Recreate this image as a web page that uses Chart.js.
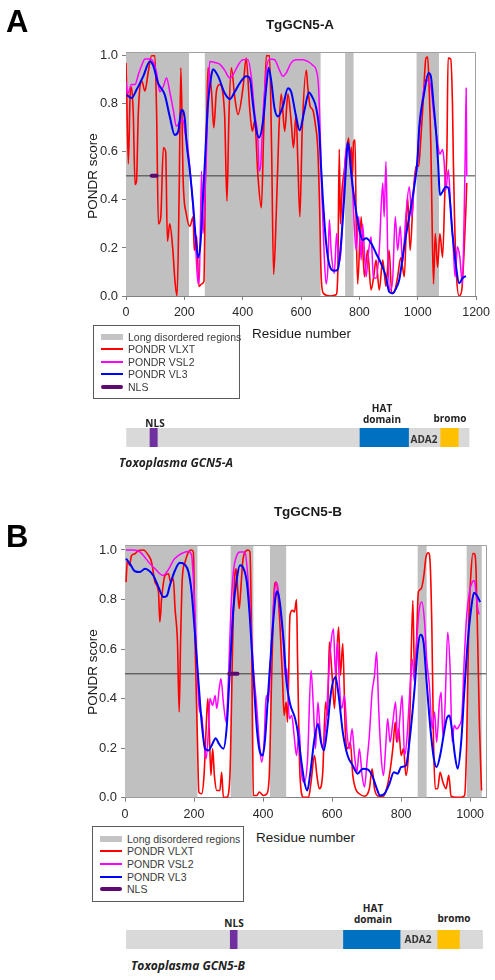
<!DOCTYPE html>
<html><head><meta charset="utf-8">
<script src="https://cdn.jsdelivr.net/npm/chart.js@4/dist/chart.umd.min.js"></script>
<style>
body{margin:0;width:495px;height:980px;position:relative;background:#fff;overflow:hidden;font-family:"Liberation Sans",Arial,sans-serif}
.wrap{position:absolute;left:0;width:495px}
.t{position:absolute;white-space:nowrap;line-height:1;z-index:5;color:#1a1a1a}
.c{transform:translate(-50%,-50%)}
.l{transform:translate(0,-50%)}
.dom{font-family:"Open Sans",sans-serif;font-weight:700;font-size:10px;color:#222}
.lg{position:absolute;border:1px solid #5a5a5a;background:#fff;z-index:4;box-sizing:border-box}
.lr{position:absolute;left:0;height:12px;width:100%}
.sw{position:absolute;left:7px;width:22px}
.lt{position:absolute;left:34px;top:50%;transform:translateY(-50%);font-size:10.5px;color:#3a3a3a;white-space:nowrap;line-height:1}
</style></head>
<body>
<div class="t" style="left:6px;top:6px;font-size:31px;font-weight:700;color:#000">A</div>
<div class="t" style="left:6px;top:521px;font-size:31px;font-weight:700;color:#000">B</div>
<div class="t c" style="left:300px;top:25px;font-size:13.5px;font-weight:700">TgGCN5-A</div>
<div class="t c" style="left:308px;top:512px;font-size:13.5px;font-weight:700">TgGCN5-B</div>
<div class="t c" style="left:93px;top:176px;font-size:13.5px;transform:translate(-50%,-50%) rotate(-90deg)">PONDR score</div>
<div class="t c" style="left:93px;top:672px;font-size:13.5px;transform:translate(-50%,-50%) rotate(-90deg)">PONDR score</div>
<div class="t l" style="left:252px;top:334px;font-size:13.5px">Residue number</div>
<div class="t l" style="left:256px;top:838px;font-size:13.5px">Residue number</div>

<div class="wrap" style="top:0;height:330px"><canvas id="cA"></canvas></div>
<div class="wrap" style="top:500px;height:330px"><canvas id="cB"></canvas></div>
<div class="wrap" style="top:428px;height:19px"><canvas id="dA"></canvas></div>
<div class="wrap" style="top:930px;height:19px"><canvas id="dB"></canvas></div>

<div class="lg" style="left:93px;top:325px;width:147px;height:74px">
 <div class="lr" style="top:5px"><div class="sw" style="top:3px;height:6px;background:#c4c4c4"></div><div class="lt">Long disordered regions</div></div>
 <div class="lr" style="top:17px"><div class="sw" style="top:5px;height:2px;background:#ff0000"></div><div class="lt">PONDR VLXT</div></div>
 <div class="lr" style="top:29.5px"><div class="sw" style="top:5px;height:2px;background:#ff00ff"></div><div class="lt">PONDR VSL2</div></div>
 <div class="lr" style="top:41.5px"><div class="sw" style="top:5px;height:2px;background:#0000ff"></div><div class="lt">PONDR VL3</div></div>
 <div class="lr" style="top:54.5px"><div class="sw" style="top:4px;height:4px;border-radius:2px;background:#5c0a70"></div><div class="lt">NLS</div></div>
</div>
<div class="lg" style="left:92px;top:826px;width:152px;height:76px">
 <div class="lr" style="top:6px"><div class="sw" style="top:3px;height:6px;background:#c4c4c4"></div><div class="lt">Long disordered regions</div></div>
 <div class="lr" style="top:18px"><div class="sw" style="top:5px;height:2px;background:#ff0000"></div><div class="lt">PONDR VLXT</div></div>
 <div class="lr" style="top:30.5px"><div class="sw" style="top:5px;height:2px;background:#ff00ff"></div><div class="lt">PONDR VSL2</div></div>
 <div class="lr" style="top:43.5px"><div class="sw" style="top:5px;height:2px;background:#0000ff"></div><div class="lt">PONDR VL3</div></div>
 <div class="lr" style="top:56px"><div class="sw" style="top:4px;height:4px;border-radius:2px;background:#5c0a70"></div><div class="lt">NLS</div></div>
</div>

<div class="t c dom" style="left:155px;top:423px">NLS</div>
<div class="t c dom" style="left:382px;top:408px">HAT</div>
<div class="t c dom" style="left:382px;top:419px">domain</div>
<div class="t c dom" style="left:450px;top:418px">bromo</div>
<div class="t c dom" style="left:424px;top:439px;color:#333">ADA2</div>
<div class="t l dom" style="left:119px;top:463px;font-size:12px;font-style:italic">Toxoplasma GCN5-A</div>

<div class="t c dom" style="left:234px;top:923px">NLS</div>
<div class="t c dom" style="left:373px;top:908px">HAT</div>
<div class="t c dom" style="left:373px;top:919px">domain</div>
<div class="t c dom" style="left:454px;top:918px">bromo</div>
<div class="t c dom" style="left:418px;top:939px;color:#333">ADA2</div>
<div class="t l dom" style="left:131px;top:966px;font-size:12px;font-style:italic">Toxoplasma GCN5-B</div>

<script>
// ---------- data ----------
const THRESHOLD = 0.5;
const Y_TICK_STEP = 0.2;
const X_TICK_STEP = 200;

// Panel A: TgGCN5-A
const A_XMAX = 1200;
const A_DISORDER = [[0,216],[270,667],[751,780],[996,1073]];
const A_NLS = [88,105];
const A_VLXT = [[0,.97],[2,.87],[8,.55],[14,.83],[19,.87],[25,.755],[31,.464],[36,.478],[42,.755],[54,.894],[65,.853],[76,.93],[88,1.0],[99,1.0],[105,.755],[111,.30],[119,.325],[128,.617],[136,.60],[142,.228],[150,.30],[160,.20],[168,.06],[175,0],[182,.41],[188,.95],[196,.478],[207,.34],[219,.29],[230,.33],[234,.19],[242,.25],[250,.04],[259,.05],[267,.06],[272,.478],[277,.755],[281,.95],[293,.853],[301,.70],[310,.853],[321,.88],[338,.755],[346,.395],[353,.755],[361,.95],[373,.825],[384,.755],[401,.866],[412,.99],[424,.78],[433,.686],[441,.728],[452,.505],[464,.367],[472,.686],[481,1.0],[492,1.0],[499,.617],[506,.09],[515,.34],[524,.686],[532,.84],[544,.686],[555,.84],[566,.728],[574,.617],[583,.755],[589,.56],[596,.33],[604,.69],[618,.94],[623,.87],[631,.79],[640,.775],[650,.706],[657,.62],[663,.40],[669,.08],[677,.01],[700,0],[720,.005],[726,.10],[731,.61],[735,.30],[741,.45],[748,.52],[755,.60],[763,.657],[768,.55],[772,.62],[776,.50],[780,.64],[785,.65],[789,.30],[794,.05],[806,.33],[817,.08],[828,.19],[840,.025],[849,.08],[857,.15],[868,.025],[880,.15],[891,.04],[902,.19],[911,.01],[922,.025],[931,.08],[942,.16],[954,.08],[965,.414],[974,.19],[985,.43],[994,.54],[1003,.54],[1011,.664],[1019,.817],[1028,.99],[1034,.994],[1039,.87],[1045,.62],[1048,.40],[1054,.05],[1060,.26],[1068,.12],[1076,.26],[1085,.16],[1094,.47],[1100,.61],[1104,.99],[1113,.986],[1119,.80],[1122,.565],[1126,.33],[1133,.08],[1142,0],[1151,.025],[1159,.19],[1165,.36],[1168,.47]];
const A_VSL2 = [[0,.893],[5,.84],[19,.88],[31,.88],[42,.92],[54,.96],[65,.986],[82,.986],[93,.976],[105,.928],[116,.85],[128,.872],[139,.907],[150,.85],[162,.775],[173,.706],[185,.726],[196,.733],[202,.68],[210,.636],[219,.53],[230,.37],[239,.20],[247,.05],[252,.10],[259,.52],[264,.26],[270,.40],[276,.61],[282,.85],[287,.976],[304,.972],[321,.965],[338,.94],[356,.907],[367,.92],[384,.96],[401,.983],[418,.983],[430,.907],[441,.76],[452,.65],[456,.52],[462,.55],[470,.76],[481,.94],[492,.986],[509,.983],[526,.94],[538,.914],[549,.928],[566,.97],[583,.983],[606,.983],[623,.976],[640,.96],[652,.94],[660,.87],[666,.664],[672,.40],[680,.15],[686,.05],[692,.12],[697,.317],[703,.19],[714,.095],[722,.26],[729,.136],[737,.19],[745,.40],[752,.58],[760,.636],[766,.58],[772,.50],[777,.43],[783,.28],[789,.19],[798,.33],[806,.15],[811,.30],[823,.08],[832,.19],[840,.247],[848,.08],[857,.074],[868,.19],[880,.47],[885,.33],[891,.56],[897,.19],[905,.025],[914,.07],[923,.33],[931,.19],[940,.29],[948,.136],[959,.33],[971,.455],[980,.33],[988,.47],[996,.525],[1003,.65],[1011,.76],[1028,.90],[1037,.893],[1045,.87],[1056,.747],[1068,.636],[1076,.59],[1085,.61],[1090,.566],[1096,.44],[1105,.525],[1113,.36],[1121,.22],[1128,.08],[1136,.205],[1144,.164],[1153,.05],[1159,.33],[1163,.61],[1166,.865],[1168,.50]];
const A_VL3 = [[3,.837],[19,.824],[36,.858],[59,.914],[82,.976],[93,.96],[110,.886],[133,.837],[150,.747],[167,.67],[179,.685],[190,.775],[202,.733],[207,.645],[219,.52],[230,.38],[239,.24],[247,.16],[255,.215],[264,.41],[273,.62],[281,.80],[293,.92],[298,.944],[316,.914],[338,.845],[356,.82],[373,.85],[390,.886],[412,.914],[424,.907],[435,.80],[447,.69],[456,.66],[470,.73],[481,.872],[489,.95],[498,.893],[509,.782],[521,.747],[538,.79],[555,.865],[566,.85],[583,.747],[595,.69],[612,.775],[627,.847],[640,.824],[652,.782],[663,.678],[668,.55],[675,.40],[686,.22],[697,.13],[714,.105],[726,.11],[737,.22],[749,.43],[755,.56],[760,.639],[766,.60],[771,.525],[783,.40],[800,.275],[811,.233],[823,.24],[840,.22],[857,.178],[874,.136],[891,.08],[902,.018],[914,.011],[925,.03],[937,.07],[948,.16],[959,.247],[971,.33],[988,.455],[999,.566],[1005,.70],[1022,.844],[1037,.928],[1045,.914],[1054,.80],[1064,.664],[1070,.55],[1076,.42],[1085,.434],[1096,.455],[1105,.45],[1119,.26],[1130,.136],[1142,.053],[1153,.074],[1165,.083]];
const A_PROTEIN = [2,1173];
const A_NLS_BOX = [82,107];
const A_HAT = [800,966];
const A_BROMO = [1076,1136];

// Panel B: TgGCN5-B
const B_XMAX = 1048;
const B_DISORDER = [[0,210],[306,372],[420,467],[848,874],[990,1034]];
const B_NLS = [302,326];
const B_VLXT = [[3,.87],[7,.958],[13,.938],[19,.978],[29,.985],[39,.998],[53,1.0],[68,.978],[77,.951],[87,.87],[97,.83],[101,.709],[106,.803],[116,.897],[126,.904],[132,.87],[140,.884],[145,.763],[152,.628],[157,.346],[161,.628],[166,.884],[174,.951],[184,.992],[193,1.0],[198,.992],[203,.628],[210,.224],[214,.023],[222,.016],[229,.09],[235,.278],[240,.40],[244,.278],[249,.09],[254,.198],[259,.09],[266,.029],[275,.029],[280,.103],[285,.002],[295,.002],[304,.09],[312,.628],[317,.87],[322,.924],[325,.87],[331,.763],[335,.83],[341,.951],[348,.992],[357,1.0],[362,.992],[367,.628],[372,.009],[382,.009],[389,.023],[401,.009],[411,.016],[418,.09],[425,.494],[432,.83],[437,.87],[442,.843],[449,.696],[456,.494],[461,.332],[467,.386],[471,.305],[478,.736],[485,.756],[491,.75],[497,.80],[500,.56],[507,.09],[517,.002],[532,.002],[539,.063],[549,.17],[556,.09],[563,.036],[573,.103],[581,.386],[587,.332],[592,.628],[600,.494],[607,.36],[614,.588],[619,.689],[624,.494],[631,.622],[638,.278],[645,.198],[653,.224],[660,.09],[668,.036],[679,.016],[694,.006],[708,.036],[716,.117],[723,.036],[735,.006],[749,.006],[758,.036],[766,.09],[776,.198],[783,.305],[787,.224],[793,.278],[800,.17],[807,.198],[814,.09],[821,.17],[826,.36],[834,.796],[839,.494],[843,.56],[850,.83],[858,.843],[866,.897],[872,.971],[879,.989],[884,.951],[889,.696],[894,.224],[899,.036],[906,.036],[913,.103],[921,.063],[930,.036],[938,.09],[945,.006],[959,.002],[974,.002],[984,.009],[990,.224],[996,.696],[1002,.897],[1008,.985],[1012,.985],[1017,.924],[1022,.628],[1027,.292],[1033,.029]];
const B_VSL2 = [[3,1.0],[24,1.0],[43,.992],[58,.97],[72,.945],[87,.924],[101,.904],[111,.897],[121,.911],[130,.931],[140,.958],[155,.978],[169,.989],[184,.994],[193,.978],[200,.83],[208,.56],[215,.36],[222,.332],[229,.224],[235,.157],[242,.278],[246,.40],[254,.373],[261,.413],[266,.36],[273,.44],[278,.48],[285,.386],[293,.305],[300,.494],[307,.763],[314,.911],[324,.978],[333,.992],[348,.992],[354,.924],[362,.763],[372,.52],[382,.36],[389,.224],[396,.144],[403,.224],[409,.413],[415,.386],[422,.56],[430,.763],[437,.868],[442,.857],[449,.763],[459,.628],[464,.494],[469,.52],[476,.319],[483,.332],[490,.251],[497,.17],[505,.278],[510,.117],[520,.063],[529,.157],[539,.514],[546,.36],[552,.198],[559,.386],[565,.278],[573,.198],[583,.319],[590,.494],[597,.628],[604,.682],[610,.494],[616,.628],[621,.467],[628,.36],[636,.413],[643,.265],[650,.198],[658,.278],[665,.17],[672,.103],[679,.198],[687,.09],[694,.043],[701,.144],[708,.251],[716,.426],[723,.494],[729,.588],[735,.36],[742,.17],[749,.09],[755,.198],[761,.319],[768,.224],[776,.305],[784,.386],[790,.224],[797,.332],[803,.413],[810,.17],[816,.224],[824,.40],[832,.56],[839,.467],[845,.628],[853,.763],[860,.79],[868,.709],[874,.56],[882,.453],[890,.278],[897,.346],[903,.224],[911,.386],[916,.426],[921,.251],[927,.36],[935,.668],[942,.52],[948,.224],[954,.292],[961,.278],[969,.292],[976,.332],[983,.56],[990,.736],[998,.83],[1006,.87],[1012,.877],[1017,.83],[1022,.763],[1026,.74]];
const B_VL3 = [[3,.965],[14,.945],[29,.914],[43,.911],[58,.924],[68,.918],[82,.897],[97,.85],[111,.81],[121,.814],[130,.857],[145,.918],[159,.948],[174,.94],[184,.911],[193,.83],[203,.655],[213,.467],[222,.305],[232,.198],[242,.191],[251,.211],[263,.24],[272,.218],[285,.198],[295,.29],[304,.52],[314,.763],[324,.884],[333,.938],[343,.927],[353,.87],[362,.722],[372,.494],[382,.278],[391,.184],[399,.17],[406,.238],[415,.426],[425,.628],[435,.796],[440,.833],[447,.803],[459,.642],[468,.467],[478,.38],[493,.319],[500,.27],[510,.157],[520,.063],[528,.029],[536,.09],[549,.238],[559,.298],[568,.224],[576,.191],[586,.278],[597,.426],[610,.487],[619,.413],[631,.265],[645,.17],[660,.13],[674,.097],[689,.117],[703,.114],[716,.09],[728,.043],[739,.009],[752,.016],[766,.056],[779,.103],[790,.097],[800,.124],[814,.13],[824,.224],[839,.44],[848,.601],[856,.658],[865,.628],[874,.467],[885,.278],[895,.157],[903,.124],[913,.17],[923,.251],[932,.319],[940,.332],[947,.278],[956,.17],[964,.117],[974,.224],[983,.426],[993,.628],[1003,.763],[1011,.827],[1019,.817],[1029,.79]];
const B_PROTEIN = [4,1036];
const B_NLS_BOX = [305,325];
const B_HAT = [633,797];
const B_BROMO = [906,969];

// ---------- drawing ----------
const FONT = '"Liberation Sans", Arial, sans-serif';
const pts = a => a.map(p => ({x:p[0], y:p[1]}));
function regionSteps(list, top){
  const out = [];
  list.forEach(([s,e]) => { out.push({x:s,y:top}); out.push({x:e,y:0}); });
  return out;
}
const framePlugin = {
  id:'frame',
  afterDraw(chart){
    const a = chart.chartArea, ctx = chart.ctx;
    ctx.save(); ctx.strokeStyle = '#a0a0a0'; ctx.lineWidth = 1;
    ctx.beginPath();
    ctx.moveTo(a.left, Math.round(a.top)+0.5); ctx.lineTo(Math.round(a.right)-0.5, Math.round(a.top)+0.5);
    ctx.lineTo(Math.round(a.right)-0.5, a.bottom);
    ctx.stroke(); ctx.restore();
  }
};
function axis(o){
  return {
    type:'linear', min:0, max:o.max, bounds:'data', z:1,
    afterFit:o.fit,
    afterBuildTicks:s=>{ s.ticks = s.ticks.filter(t => Math.abs(t.value/o.step - Math.round(t.value/o.step)) < 1e-6); },
    ticks:{stepSize:o.step, includeBounds:false, autoSkip:false, maxRotation:0, color:'#2a2a2a',
      font:{family:FONT, size:o.size}, padding:o.pad, callback:o.cb},
    grid:{drawOnChartArea:false, drawTicks:true, tickLength:4, color:'#808080'},
    border:{display:true, color:'#808080', width:1}
  };
}
function plot(id, o){
  return new Chart(document.getElementById(id), {
    type:'line',
    data:{datasets:[
      {label:'Long disordered regions', data:regionSteps(o.dis, o.ymax), stepped:true, fill:'origin',
        backgroundColor:'#c0c0c0', borderWidth:0, borderColor:'rgba(0,0,0,0)', order:10},
      {label:'threshold', data:[{x:0,y:THRESHOLD},{x:o.xmax,y:THRESHOLD}], borderColor:'#3a3a3a', borderWidth:1, order:9},
      {label:'PONDR VLXT', data:pts(o.vlxt), borderColor:'#ff0000', borderWidth:1.6, order:6},
      {label:'PONDR VSL2', data:pts(o.vsl2), borderColor:'#ff00ff', borderWidth:1.5, order:5},
      {label:'PONDR VL3', data:pts(o.vl3), borderColor:'#0000ff', borderWidth:2, order:4},
      {label:'NLS', data:[{x:o.nls[0],y:THRESHOLD},{x:o.nls[1],y:THRESHOLD}], borderColor:'#5c0a70',
        borderWidth:4, borderCapStyle:'round', order:1}
    ]},
    options:{
      animation:false, responsive:true, maintainAspectRatio:false,
      layout:{padding:{top:o.padTop, right:o.padRight, left:0, bottom:0}},
      plugins:{legend:{display:false}, tooltip:{enabled:false}},
      elements:{point:{radius:0}, line:{cubicInterpolationMode:'monotone', fill:false}},
      scales:{
        x:axis({max:o.xmax, step:X_TICK_STEP, pad:5, size:12.5, fit:s=>{s.height=o.xh;}, cb:v=>String(v)}),
        y:axis({max:o.ymax, step:Y_TICK_STEP, pad:4, size:13, fit:s=>{s.width=o.yw;}, cb:v=>v.toFixed(1)})
      }
    },
    plugins:[framePlugin]
  });
}
function domains(id, o){
  const bar = (d, c, ord) => ({data:[d], backgroundColor:c, borderWidth:0, grouped:false,
    barPercentage:1, categoryPercentage:1, order:ord});
  return new Chart(document.getElementById(id), {
    type:'bar',
    data:{labels:[o.name], datasets:[
      bar(o.protein, '#d9d9d9', 5), bar(o.nls, '#7030a0', 1), bar(o.hat, '#0070c0', 1), bar(o.bromo, '#ffc000', 1)
    ]},
    options:{
      indexAxis:'y', animation:false, responsive:true, maintainAspectRatio:false,
      layout:{padding:{left:o.left, right:o.right, top:0, bottom:0}},
      plugins:{legend:{display:false}, tooltip:{enabled:false}},
      scales:{x:{type:'linear', min:0, max:o.xmax, bounds:'data', display:false}, y:{display:false}}
    }
  });
}

plot('cA', {dis:A_DISORDER, nls:A_NLS, vlxt:A_VLXT, vsl2:A_VSL2, vl3:A_VL3, xmax:A_XMAX, ymax:1.0154,
  padTop:52, padRight:18, xh:34, yw:126});
plot('cB', {dis:B_DISORDER, nls:B_NLS, vlxt:B_VLXT, vsl2:B_VSL2, vl3:B_VL3, xmax:B_XMAX, ymax:1.02,
  padTop:45, padRight:8.3, xh:32.3, yw:125});
domains('dA', {name:'Toxoplasma GCN5-A', protein:A_PROTEIN, nls:A_NLS_BOX, hat:A_HAT, bromo:A_BROMO, xmax:A_XMAX, left:126, right:18});
domains('dB', {name:'Toxoplasma GCN5-B', protein:B_PROTEIN, nls:B_NLS_BOX, hat:B_HAT, bromo:B_BROMO, xmax:B_XMAX, left:125, right:8.3});
</script>
</body></html>
